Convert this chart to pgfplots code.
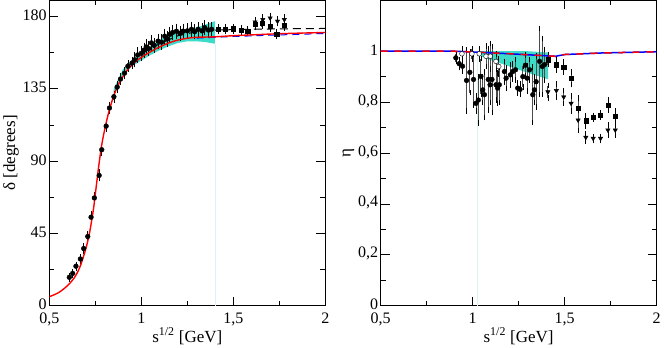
\documentclass[border=0pt]{standalone}
\usepackage{fontspec}
\setmainfont{Liberation Serif}
\usepackage{pgfplots}
\pgfplotsset{compat=1.18}
\definecolor{band}{HTML}{3CDCC8}
\definecolor{faint}{HTML}{D8F4F4}

\pgfplotsset{
  panel/.style={
    scale only axis, width=275bp, height=304bp,
    xmin=0.5, xmax=2, xtick={0.5,1,1.5,2}, minor x tick num=1, minor y tick num=1,
    tick align=inside, major tick length=9bp, minor tick length=5bp,
    /pgf/number format/use comma, /pgf/number format/assume math mode=true,
    tick label style={font=\fontsize{16}{18}\selectfont},
    label style={font=\fontsize{17}{19}\selectfont},
    xticklabel style={yshift=-3.5bp},
    yticklabel style={xshift=1bp, yshift=1bp},
    ylabel style={yshift=-3bp},
    xlabel style={yshift=4.5bp},
    xlabel={s\textsuperscript{1/2} [GeV]},
    axis line style={line width=0.7pt}, every tick/.style={black, line width=0.6pt},
  },
  dat/.style={only marks, black, mark size=2.4pt,
    error bars/y dir=both, error bars/y explicit,
    error bars/error bar style={black!70, line width=0.8pt},
    error bars/error mark options={black, mark size=2.8pt, line width=0.7pt}},
}

\begin{document}
\begin{tikzpicture}
% left panel: phase shift
\begin{axis}[panel, ymin=0, ymax=190, ytick={0,45,90,135,180},
    ylabel={δ [degrees]}]
\addplot[fill=band, draw=none] coordinates {
  (0.85,131) (0.9,143) (0.95,149) (1.0,152.5) (1.05,156) (1.1,159) (1.15,161.5)
  (1.2,163.5) (1.25,164.5) (1.3,164.5) (1.35,164) (1.4,163)
  (1.4,177) (1.35,175) (1.3,173) (1.25,172) (1.2,170.5) (1.15,168.5) (1.1,165.5)
  (1.05,161.5) (1.0,157.5) (0.95,153) (0.9,147) (0.85,135)} -- cycle;
\addplot[faint, line width=0.5pt] coordinates {(1.4,0) (1.4,163)};
\addplot[blue, dash pattern=on 7pt off 5pt, line width=1pt] coordinates {
  (1.3,166.5) (1.5,167.5) (1.7,168.3) (1.9,169) (2.0,169.4)};
\addplot[black, dash pattern=on 8pt off 5pt, line width=1pt] coordinates {
  (1.0,157) (1.1,163) (1.2,168) (1.3,170.5) (1.4,171.5) (1.6,172) (1.8,172.3) (2.0,172.5)};
% circles
\addplot[dat, mark=*] table[y error index=2] {
x y e
0.609 17.6 1
0.627 20 1
0.645 24.5 1
0.669 29 1.5
0.687 35.5 1.5
0.709 43 1.5
0.727 55 2
0.745 67 2
0.771 81 2
0.785 97 2
0.809 111.7 2
0.827 123 2
0.851 130 2
0.869 136 2
0.887 141 2
0.909 144.7 2
0.927 149 2
0.950 151 2
0.964 153 3
0.980 156 3
1.000 157 3
1.015 159 3
1.027 161 3
1.040 160 3
1.055 163.5 3
1.070 162 3
1.091 164.6 3
1.110 164 3
1.127 167.7 3
1.140 166 3
1.155 168.8 3
1.170 170 3
1.191 170.8 3
1.210 169.5 3
1.227 170.8 3
1.250 171 3
1.273 172 3
1.290 170.5 3
1.309 172 3
1.330 171 3
1.345 173 3
1.365 171.5 3
1.382 172 3
};
% squares
\addplot[dat, mark=square*, mark size=2.1pt] table[y error index=2] {
x y e
1.418 172 1.5
1.455 172 1.5
1.500 172.3 1.5
1.542 171.5 1.5
1.578 171 1.5
1.618 175 2
1.655 175.7 2
1.700 174 2
1.736 169 1.5
1.777 174.5 2
};
% triangles
\addplot[dat, mark=triangle*, mark size=2.5pt, mark options={rotate=180}] table[y error index=2] {
x y e
1.618 176.5 1.5
1.660 178 1.5
1.700 179 1.5
1.740 177 1.5
1.777 178 1.5
};
\addplot[red, line width=1.4pt, smooth] coordinates {
  (0.50,5.5) (0.55,8) (0.60,12.5) (0.64,18) (0.67,25) (0.70,36) (0.72,46)
  (0.74,60) (0.755,74) (0.77,88) (0.785,100) (0.80,109) (0.82,119) (0.84,127)
  (0.86,133.5) (0.88,138.5) (0.90,142.5) (0.93,147.5) (0.96,151) (1.00,154.5)
  (1.05,158) (1.10,161) (1.15,163.5) (1.20,165.3) (1.25,166.4) (1.30,167)
  (1.40,167.3) (1.50,168) (1.60,168.5) (1.70,169) (1.80,169.4) (2.00,170)};
\end{axis}

% right panel: inelasticity
\begin{axis}[panel, at={(330bp,0)}, ymin=0, ymax=1.2,
    ytick={0,0.2,0.4,0.6,0.8,1}, ylabel={η}]
\addplot[fill=band, draw=none] coordinates {
  (1.027,0.985) (1.1,0.965) (1.2,0.94) (1.3,0.915) (1.41,0.89)
  (1.41,0.995) (1.3,1.0) (1.1,1.0) (1.027,1.0)} -- cycle;
\addplot[faint, line width=0.5pt] coordinates {(1.025,0) (1.025,0.98)};
% filled circles
\addplot[dat, mark=*] table[y error index=2] {
x y e
0.909 0.974 0.015
0.927 0.951 0.015
0.945 0.941 0.02
0.967 0.885 0.12
0.985 0.917 0.08
1.005 0.889 0.1
1.018 0.795 0.03
1.031 0.808 0.09
1.045 0.901 0.07
1.055 0.848 0.05
1.064 0.829 0.09
1.085 0.889 0.12
1.095 0.868 0.07
1.105 0.889 0.13
1.127 0.868 0.06
1.136 0.855 0.06
1.145 0.868 0.07
1.173 0.92 0.04
1.182 0.894 0.04
1.205 0.907 0.04
1.218 0.92 0.03
1.233 0.927 0.04
1.245 0.855 0.02
1.258 0.85 0.02
1.273 0.9 0.04
1.287 0.945 0.04
1.296 0.894 0.05
1.309 0.927 0.04
1.327 0.829 0.11
1.336 0.848 0.05
1.345 0.88 0.1
1.364 0.96 0.13
1.378 0.94 0.11
1.391 0.947 0.06
};
% open circles
\addplot[dat, mark=*, mark options={fill=white}] table[y error index=2] {
x y e
0.942 0.99 0.02
0.996 0.99 0.02
1.036 0.99 0.02
1.073 0.98 0.04
1.096 0.98 0.05
1.127 0.96 0.03
1.142 0.94 0.03
};
% squares
\addplot[dat, mark=square*, mark size=2.1pt] table[y error index=2] {
x y e
1.409 0.967 0.02
1.455 0.947 0.02
1.495 0.938 0.02
1.535 0.894 0.025
1.573 0.776 0.04
1.615 0.727 0.02
1.655 0.739 0.008
1.695 0.749 0.008
1.735 0.789 0.02
1.775 0.745 0.02
};
% triangles
\addplot[dat, mark=triangle*, mark size=2.5pt, mark options={rotate=180}] table[y error index=2] {
x y e
1.409 0.84 0.025
1.455 0.845 0.025
1.495 0.82 0.025
1.535 0.795 0.03
1.573 0.729 0.04
1.615 0.661 0.015
1.655 0.657 0.008
1.695 0.657 0.008
1.735 0.69 0.02
1.775 0.69 0.02
};
\addplot[blue, line width=1.5pt] coordinates {
  (0.5,1.0) (0.9,1.0) (1.0,0.997) (1.2,0.99) (1.4,0.982) (1.45,0.98)
  (1.5,0.987) (1.7,0.993) (2.0,0.998)};
\addplot[red, dash pattern=on 7pt off 7pt, line width=1.5pt] coordinates {
  (0.5,1.0) (0.9,1.0) (1.0,0.997) (1.2,0.99) (1.4,0.982) (1.45,0.98)
  (1.5,0.987) (1.7,0.993) (2.0,0.998)};
\end{axis}
\end{tikzpicture}
\end{document}
